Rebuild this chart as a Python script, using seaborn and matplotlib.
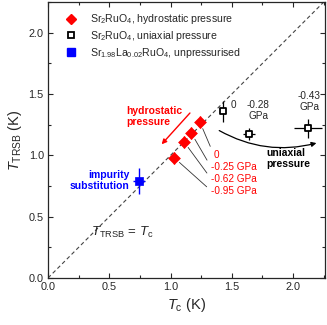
import numpy as np
import pandas as pd
import matplotlib
matplotlib.use("Agg")
import matplotlib.pyplot as plt
import seaborn as sns
from matplotlib.lines import Line2D
from matplotlib.ticker import MultipleLocator, FormatStrFormatter

# ---- data ----
hydro_tc = [1.24, 1.17, 1.11, 1.03]
hydro_trsb = [1.27, 1.18, 1.11, 0.98]
hydro_xerr = [0.03, 0.03, 0.03, 0.03]
hydro_yerr = [0.05, 0.05, 0.05, 0.05]
hydro_labels = ["0", "-0.25 GPa", "-0.62 GPa", "-0.95 GPa"]

uni_tc = [1.425, 1.64, 2.12]
uni_trsb = [1.36, 1.175, 1.22]
uni_xerr = [0.02, 0.045, 0.114]
uni_yerr = [0.085, 0.05, 0.08]
uni_labels = ["0", "-0.28\nGPa", "-0.43\nGPa"]

la_tc = [0.745]
la_trsb = [0.79]
la_xerr = [0.05]
la_yerr = [0.105]

legend_labels = [r"Sr$_{\rm 2}$RuO$_{\rm 4}$, hydrostatic pressure",
                 r"Sr$_{\rm 2}$RuO$_{\rm 4}$, uniaxial pressure",
                 r"Sr$_{\rm 1.98}$La$_{\rm 0.02}$RuO$_{\rm 4}$, unpressurised"]

diag = [0.0, 2.25]

sns.set_style("ticks")
plt.rcParams['font.family'] = ['Liberation Sans', 'DejaVu Sans']
plt.rcParams['mathtext.fontset'] = 'custom'
plt.rcParams['mathtext.rm'] = 'Liberation Sans'
plt.rcParams['mathtext.it'] = 'Liberation Sans:italic'
plt.rcParams['mathtext.bf'] = 'Liberation Sans:bold'

fig = plt.figure(figsize=(3.27, 3.25), dpi=100)
ax = fig.add_axes([48/327, (325-278)/325, 277/327, 276/325])

# diagonal
sns.lineplot(x=diag, y=diag, ax=ax, color='#444444', lw=0.8, linestyle=(0, (3.5, 2.5)), zorder=1)

# error bars
ax.errorbar(hydro_tc, hydro_trsb, xerr=hydro_xerr, yerr=hydro_yerr, fmt='none',
            ecolor='red', elinewidth=1.0, capsize=0, zorder=2)
ax.errorbar(uni_tc, uni_trsb, xerr=uni_xerr, yerr=uni_yerr, fmt='none',
            ecolor='black', elinewidth=0.9, capsize=0, zorder=2)
ax.errorbar(la_tc, la_trsb, xerr=la_xerr, yerr=la_yerr, fmt='none',
            ecolor='blue', elinewidth=1.0, capsize=0, zorder=2)

# markers
sns.scatterplot(x=hydro_tc, y=hydro_trsb, ax=ax, marker='D', s=36, color='red',
                edgecolor='red', linewidth=0.5, zorder=3)
sns.scatterplot(x=uni_tc, y=uni_trsb, ax=ax, marker='s', s=22, facecolor='white',
                edgecolor='black', linewidth=1.3, zorder=3)
sns.scatterplot(x=la_tc, y=la_trsb, ax=ax, marker='s', s=40, color='blue',
                edgecolor='blue', linewidth=0.5, zorder=3)

ax.set_xlim(0, 2.26)
ax.set_ylim(0, 2.25)
ax.xaxis.set_major_locator(MultipleLocator(0.5))
ax.yaxis.set_major_locator(MultipleLocator(0.5))
ax.xaxis.set_minor_locator(MultipleLocator(0.25))
ax.yaxis.set_minor_locator(MultipleLocator(0.25))
ax.xaxis.set_major_formatter(FormatStrFormatter('%.1f'))
ax.yaxis.set_major_formatter(FormatStrFormatter('%.1f'))
ax.tick_params(which='both', direction='in', top=True, right=True, labelsize=7.8,
               width=0.8, pad=3)
ax.tick_params(which='major', length=3.5)
ax.tick_params(which='minor', length=2)
for s in ax.spines.values():
    s.set_linewidth(0.9)

ax.set_xlabel(r"$T_{\rm c}$ (K)", fontsize=10.5, labelpad=3)
ax.set_ylabel(r"$T_{\rm TRSB}$ (K)", fontsize=10.5, labelpad=3)

# legend
handles = [Line2D([], [], marker='D', color='red', ls='none', ms=5.5),
           Line2D([], [], marker='s', mfc='white', mec='black', mew=1.3, ls='none', ms=4.5),
           Line2D([], [], marker='s', color='blue', ls='none', ms=6)]
ax.legend(handles, legend_labels, loc='upper left', bbox_to_anchor=(0.04, 0.985),
          frameon=False, fontsize=7.6, handlelength=1.0, handletextpad=1.35,
          labelspacing=0.25, borderaxespad=0.2)

# hydrostatic labels with leader lines
hydro_text_pos = [(1.355, 1.0), (1.33, 0.905), (1.33, 0.81), (1.33, 0.712)]
for (px, py), lab, (tx, ty) in zip(zip(hydro_tc, hydro_trsb), hydro_labels, hydro_text_pos):
    ax.annotate(lab, xy=(px, py), xytext=(tx, ty), color='red', fontsize=7.2,
                ha='left', va='center',
                arrowprops=dict(arrowstyle='-', color='#333333', lw=0.6,
                                shrinkA=1, shrinkB=5, relpos=(0, 0.5)))

# uniaxial labels
ax.text(1.49, 1.412, uni_labels[0], fontsize=7.2, ha='left', va='center')
ax.text(1.717, 1.365, uni_labels[1], fontsize=7.2, ha='center', va='center', linespacing=1.1)
ax.text(2.13, 1.44, uni_labels[2], fontsize=7.2, ha='center', va='center', linespacing=1.1)

# hydrostatic arrow + text
ax.annotate("", xy=(0.927, 1.09), xytext=(1.158, 1.345),
            arrowprops=dict(arrowstyle='-|>', color='red', lw=1.0, mutation_scale=7,
                            shrinkA=0, shrinkB=0))
ax.text(0.642, 1.314, "hydrostatic\npressure", color='red', fontsize=7.5,
        fontweight='bold', ha='left', va='center', linespacing=1.15)

# uniaxial arrow + text
ax.annotate("", xy=(2.19, 1.10), xytext=(1.397, 1.202),
            arrowprops=dict(arrowstyle='-|>', color='black', lw=0.9, mutation_scale=7,
                            shrinkA=0, shrinkB=0, connectionstyle='arc3,rad=0.2'))
ax.text(1.784, 0.977, "uniaxial\npressure", color='black', fontsize=7.5,
        fontweight='bold', ha='left', va='center', linespacing=1.15)

# impurity text
ax.text(0.663, 0.796, "impurity\nsubstitution", color='blue', fontsize=7.5,
        fontweight='bold', ha='right', va='center', linespacing=1.1)

# equality text
ax.text(0.348, 0.375, r"$T_{\rm TRSB}$ = $T_{\rm c}$", fontsize=9.5, ha='left', va='center')

fig.savefig("out.png", dpi=100)
